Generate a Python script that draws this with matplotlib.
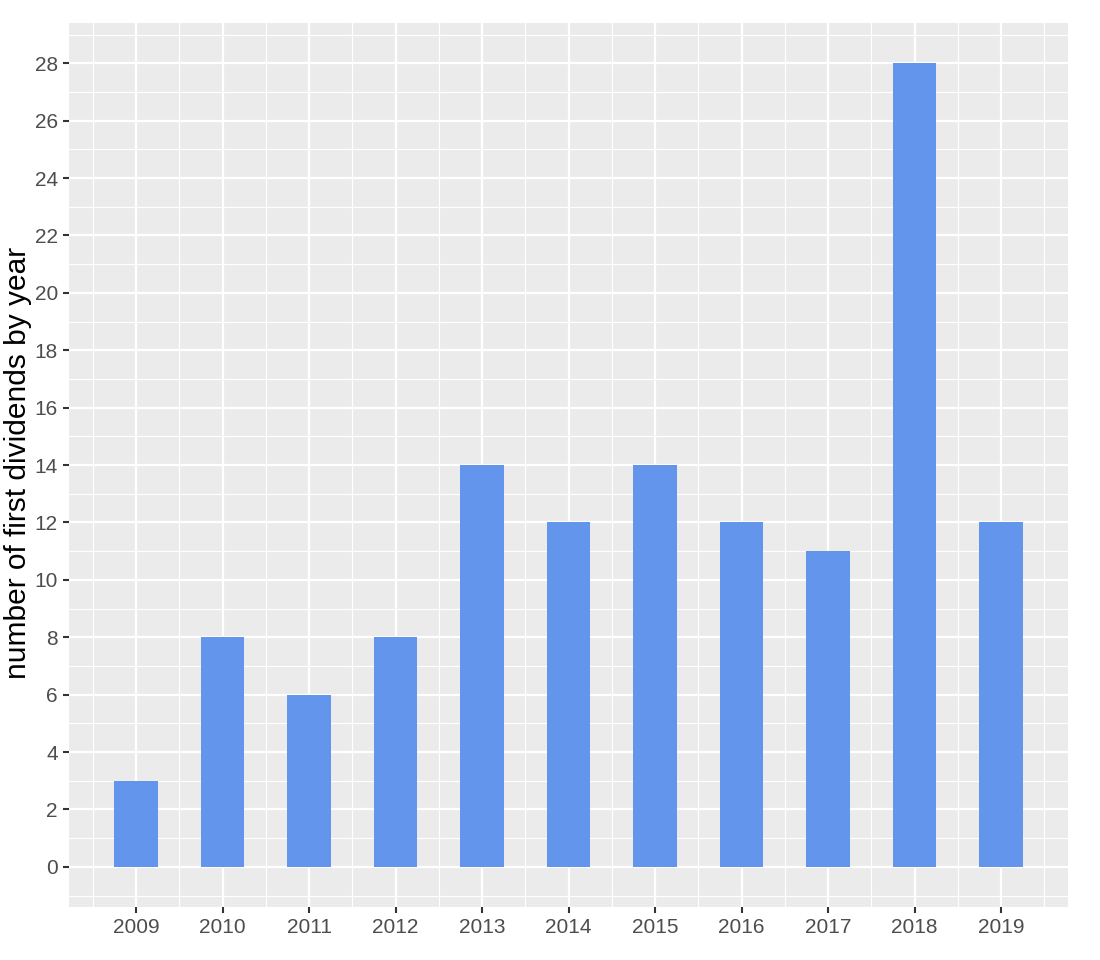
import matplotlib
matplotlib.use("Agg")
import matplotlib.pyplot as plt
from matplotlib.ticker import MultipleLocator

years = [2009, 2010, 2011, 2012, 2013, 2014, 2015, 2016, 2017, 2018, 2019]
counts = [3, 8, 6, 8, 14, 12, 14, 12, 11, 28, 12]

plt.rcParams['font.family'] = ['Liberation Sans', 'DejaVu Sans']

fig = plt.figure(figsize=(11, 9.6), dpi=100)
ax = fig.add_axes([0.0627, 0.0552, 0.9083, 0.9208])
ax.set_facecolor('#EBEBEB')

ax.bar(years, counts, width=0.5, color='#6495ED', zorder=3)

ax.set_xlim(2008.225, 2019.775)
ax.set_ylim(-1.4, 29.4)
ax.xaxis.set_major_locator(MultipleLocator(1))
ax.xaxis.set_minor_locator(MultipleLocator(0.5))
ax.yaxis.set_major_locator(MultipleLocator(2))
ax.yaxis.set_minor_locator(MultipleLocator(1))

ax.grid(which='major', color='white', linewidth=1.6, zorder=0)
ax.grid(which='minor', color='white', linewidth=0.8, zorder=0)
ax.set_axisbelow(True)

for s in ax.spines.values():
    s.set_visible(False)

ax.tick_params(which='major', length=4, width=1.5, color='#333333',
               labelcolor='#4D4D4D', labelsize=15, pad=4)
ax.tick_params(which='minor', length=0)

fig.text(0.016, 0.518, 'number of first dividends by year', rotation=90,
         fontsize=21.5, color='black', ha='center', va='center')

fig.savefig('out.png', dpi=100)
